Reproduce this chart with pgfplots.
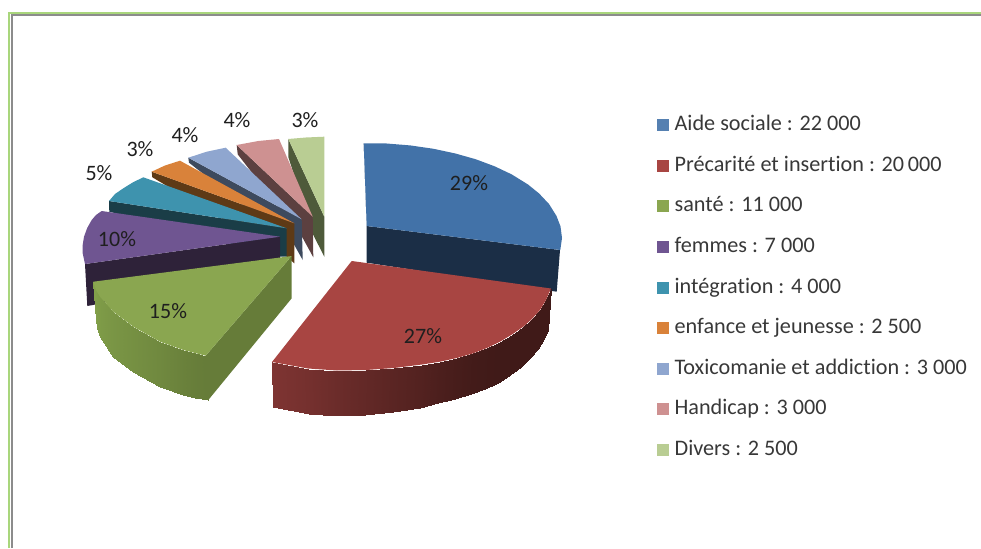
\documentclass[border=0pt]{standalone}
\usepackage{fontspec}
\setmainfont{Carlito}[Ligatures=NoCommon]
\usepackage{pgfplots}
\pgfplotsset{compat=1.18}
\definecolor{bT}{HTML}{4272A8}\definecolor{bW}{HTML}{1B2E46}
\definecolor{rT}{HTML}{A84542}\definecolor{rL}{HTML}{7E3432}\definecolor{rR}{HTML}{401A18}
\definecolor{gT}{HTML}{8AA650}\definecolor{gL}{HTML}{82A04A}\definecolor{gR}{HTML}{667C39}
\definecolor{pT}{HTML}{6F5591}\definecolor{pW}{HTML}{2E2239}
\definecolor{tT}{HTML}{3E93AE}\definecolor{tW}{HTML}{1A3D47}
\definecolor{oT}{HTML}{D9823A}\definecolor{oW}{HTML}{5E3A16}
\definecolor{lT}{HTML}{8FA6CF}\definecolor{lW}{HTML}{3D4A5E}
\definecolor{kT}{HTML}{CE9191}\definecolor{kW}{HTML}{5C4040}
\definecolor{vT}{HTML}{B9CD93}\definecolor{vW}{HTML}{4E5A3A}
\definecolor{frameG}{HTML}{A9D67C}
\pgfplotsset{
  colormap={redwall}{color=(rR) color=(rL)},
  colormap={greenwall}{color=(gR) color=(gL)},
}
\begin{document}
\begin{tikzpicture}
\begin{axis}[
  scale only axis, width=981pt, height=548pt,
  xmin=0, xmax=981, ymin=0, ymax=548, y dir=reverse,
  hide axis,
  point meta min=0, point meta max=1,
  legend cell align=left,
  legend image code/.code={\path[#1,draw=none] (0pt,-6pt) rectangle (12pt,6pt); \path (0pt,0pt) (17pt,0pt);},
  legend style={at={(axis cs:657,114.5)}, anchor=north west, draw=none, fill=none,
    font=\fontsize{22.2}{26}\selectfont, text=black!78,
    row sep=19.6pt, inner sep=0pt,
    nodes={text height=16pt, text depth=5pt, inner sep=0pt, outer sep=0pt}},
]
% legend
\addlegendimage{fill=bT!90!white} \addlegendentry{Aide sociale : 22 000}
\addlegendimage{fill=rT!100!white} \addlegendentry{Précarité et insertion : 20\,000}
\addlegendimage{fill=gT} \addlegendentry{santé : 11 000}
\addlegendimage{fill=pT} \addlegendentry{femmes : 7 000}
\addlegendimage{fill=tT} \addlegendentry{intégration : 4 000}
\addlegendimage{fill=oT} \addlegendentry{enfance et  jeunesse : 2 500}
\addlegendimage{fill=lT} \addlegendentry{Toxicomanie et addiction : 3 000}
\addlegendimage{fill=kT} \addlegendentry{Handicap : 3 000}
\addlegendimage{fill=vT} \addlegendentry{Divers : 2 500}
% full picture extent
\addplot[forget plot, draw=none] coordinates {(0,0) (981,548)};
% frame
\addplot[forget plot, draw=black!45, line width=2pt] coordinates {(12,548) (12,15.5) (981,15.5)};
\addplot[forget plot, draw=frameG, line width=2pt] coordinates {(9,548) (9,13.5) (981,13.5)};
% Divers
\addplot[forget plot, fill=vW, draw=none] coordinates {(288.3,139) (324.3,216.7) (324.3,256.7) (313.3,235) (288.3,157)} -- cycle;
\addplot[forget plot, fill=vT, draw=none] coordinates {(288.3,139) (306,137.5) (324.3,136.7) (324.3,216.7)} -- cycle;
% Handicap
\addplot[forget plot, fill=kW, draw=none] coordinates {(236.7,145) (312.7,216.7) (313.3,257.3) (302.7,238) (237.7,154.3)} -- cycle;
\addplot[forget plot, fill=kT, draw=none] coordinates {(236.7,145) (258.3,141) (279,139) (312.7,216.7)} -- cycle;
% Toxicomanie
\addplot[forget plot, fill=lW, draw=none] coordinates {(188.3,157.7) (301.7,219.3) (302.7,260) (294.3,245) (189,162.7)} -- cycle;
\addplot[forget plot, fill=lT, draw=none] coordinates {(188.3,157.7) (206.7,151.7) (225.7,147.7) (301.7,219.3)} -- cycle;
% enfance
\addplot[forget plot, fill=oW, draw=none] coordinates {(151.7,171.7) (294.3,223.3) (294.3,263.3) (286.7,256.7) (152.3,177.3)} -- cycle;
\addplot[forget plot, fill=oT, draw=none] coordinates {(151.7,171.7) (165,165.5) (180,160.7) (294.3,223.3)} -- cycle;
% integration
\addplot[forget plot, fill=tW, draw=none] coordinates {(109,201) (286.7,228.3) (286.7,256.7) (280,256.7) (109.3,211.7)} -- cycle;
\addplot[forget plot, fill=tT, draw=none] coordinates {(109,201) (115,194) (123.3,188.3) (133,182.3) (143.3,177.3) (286.7,228.3)} -- cycle;
% femmes
\addplot[forget plot, fill=pW, draw=none] coordinates {(85,264) (280,236.7) (280,262) (93,305) (87.3,306)} -- cycle;
\addplot[forget plot, fill=pT, draw=none] coordinates {(101.7,211) (96,215) (91.7,220) (87.2,228) (84,236.7) (82.7,245) (82.7,253.3) (85,264) (280,236.7)} -- cycle;
% sante wall
\addplot[forget plot, fill=gR, draw=none] coordinates {(205.7,355.7) (208.3,400) (291.7,298.3) (291.7,256)} -- cycle;
\addplot[forget plot, surf, shader=interp, colormap name=greenwall, mesh/rows=2, mesh/cols=9, point meta=\thisrow{c}] table {
x y c
93.3 281.7 1
96 290 .95
100 296.7 .85
113.3 311.7 .7
133.3 326.7 .55
160 341.7 .35
183.3 350 .15
195 353 .05
205.7 355.7 0
95.7 320 1
97 328 .95
100 336.7 .85
113.3 356.7 .7
133.3 371.7 .55
160 386.7 .35
183.3 395 .15
195 397.5 .05
208.3 400 0
};
\addplot[forget plot, fill=gT, draw=none] coordinates {(291.7,256) (93.3,281.7) (96,290) (100,296.7) (113.3,311.7) (133.3,326.7) (160,341.7) (183.3,350) (195,353) (205.7,355.7)} -- cycle;
% Aide sociale
\addplot[forget plot, fill=bW, draw=none] coordinates {(363.7,143.3) (366.7,226) (366.7,262.7) (556.7,291.7) (560,250) (366.7,226)} -- cycle;
\addplot[forget plot, fill=bT, draw=none] coordinates {(363.7,143.3) (386.5,143.5) (410.1,145.4) (433,148.7) (455,153.4) (475.6,159.2) (494.6,166.3) (511.7,174.4) (528,184.5) (539,193.4) (549,204) (556.5,216) (560.5,226.4) (562,238) (560.3,250) (366.7,226)} -- cycle;
% Precarite wall
\addplot[forget plot, surf, shader=interp, colormap name=redwall, mesh/rows=2, mesh/cols=17, point meta=\thisrow{c}] table {
x y c
551 288.5 0
546 300 0
540 310 0
532 319 0
523.3 326.7 0
512 334.5 0
500 341.7 0
487 348 .02
473.3 353.3 .05
457 358 .12
440 361.7 .2
422 364.5 .3
394 368 .42
366 370 .56
337 370.5 .7
308 368.5 .85
272 362 1
548.3 330 0
544 339 0
538 348.5 0
530 358 0
521 366.5 0
510 375 0
498 382.5 0
485 388.5 .02
471 394 .05
455 399 .12
438 403 .2
420 407.5 .3
392.5 412 .42
365 415 .56
337 415.5 .7
309 413.5 .85
273 407 1
};
\addplot[forget plot, fill=rT, draw=none] coordinates {(351.7,261) (551,288.5) (546,300) (540,310) (532,319) (523.3,326.7) (512,334.5) (500,341.7) (487,348) (473.3,353.3) (457,358) (440,361.7) (422,364.5) (394,368) (366,370) (337,370.5) (308,368.5) (272,362)} -- cycle;
% labels
\node[font=\fontsize{22}{26}\selectfont, text=black!88] at (axis cs:469,183) {29\%};
\node[font=\fontsize{22}{26}\selectfont, text=black!88] at (axis cs:423,336) {27\%};
\node[font=\fontsize{22}{26}\selectfont, text=black!88] at (axis cs:168,311) {15\%};
\node[font=\fontsize{22}{26}\selectfont, text=black!88] at (axis cs:117,239) {10\%};
\node[font=\fontsize{22}{26}\selectfont, text=black!88] at (axis cs:99,173) {5\%};
\node[font=\fontsize{22}{26}\selectfont, text=black!88] at (axis cs:140,149) {3\%};
\node[font=\fontsize{22}{26}\selectfont, text=black!88] at (axis cs:185,135) {4\%};
\node[font=\fontsize{22}{26}\selectfont, text=black!88] at (axis cs:237,120) {4\%};
\node[font=\fontsize{22}{26}\selectfont, text=black!88] at (axis cs:305,120) {3\%};
\end{axis}
\end{tikzpicture}
\end{document}
